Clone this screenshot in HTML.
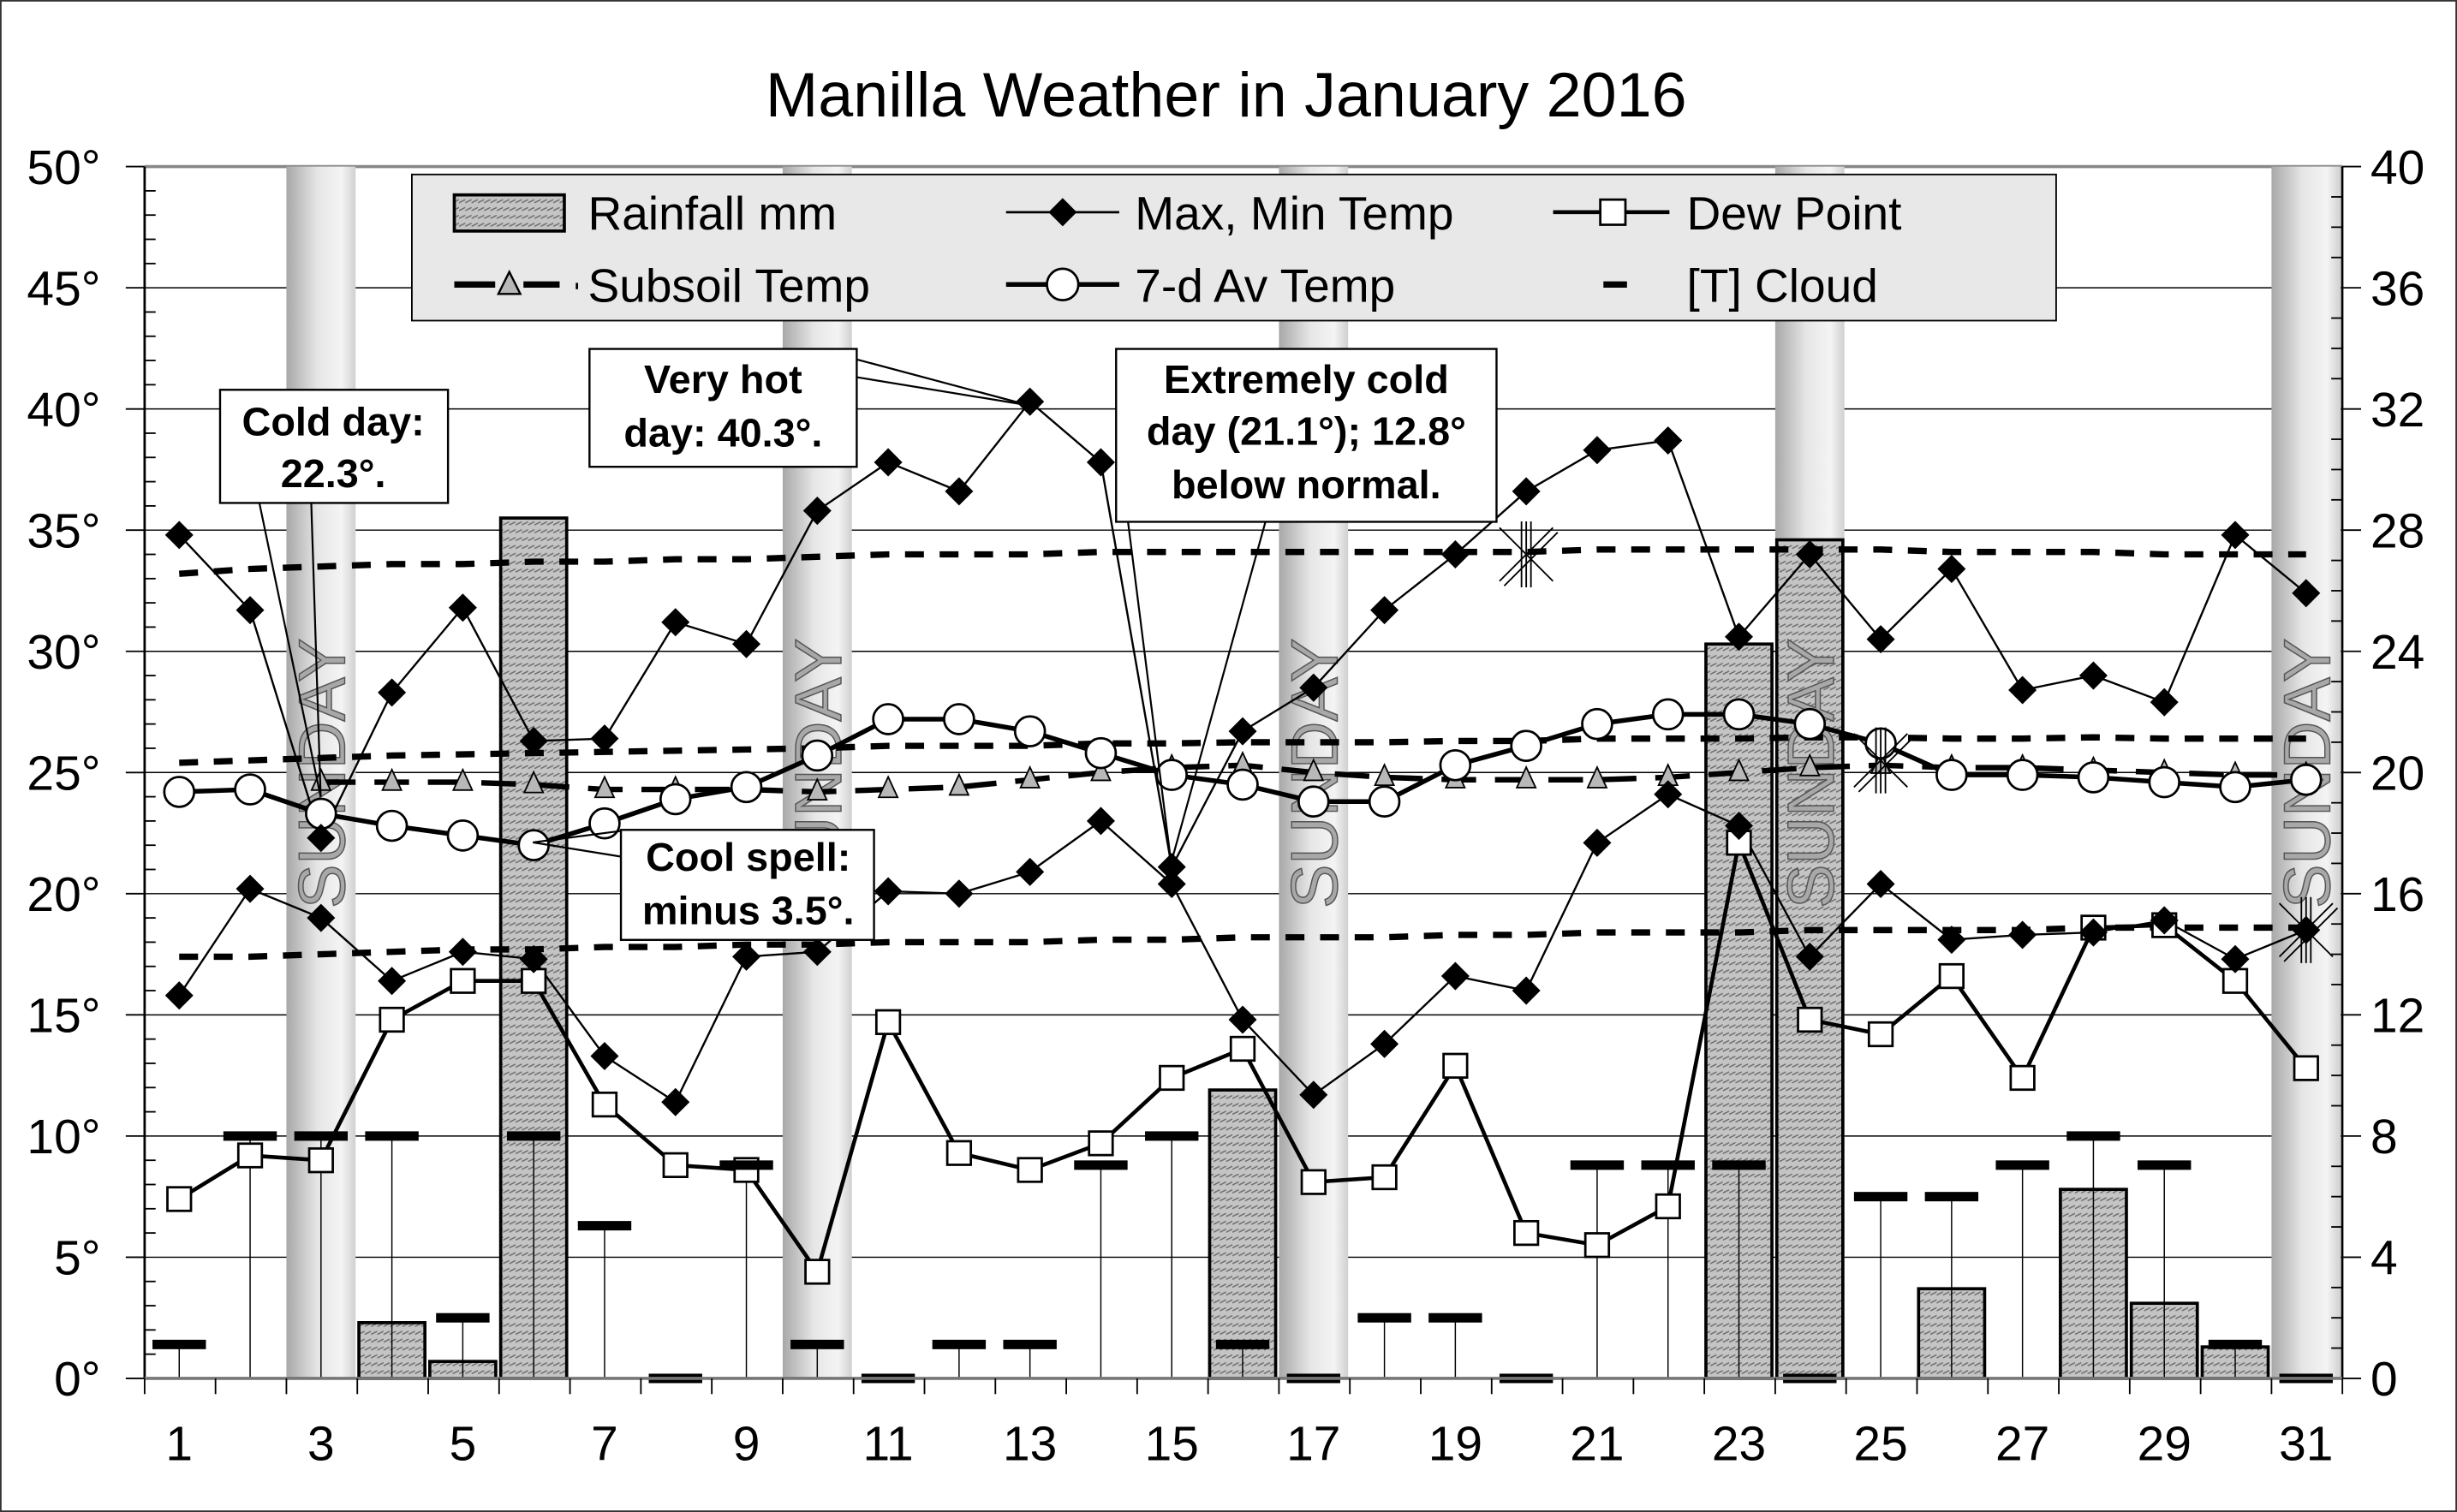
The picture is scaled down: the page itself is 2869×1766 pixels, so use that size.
<!DOCTYPE html>
<html><head><meta charset="utf-8"><style>
html,body{margin:0;padding:0;background:#fff;}
svg{display:block;}
text{font-family:"Liberation Sans",Arial,sans-serif;}
</style></head><body>
<svg id="s" width="2869" height="1766" viewBox="0 0 1563 962" preserveAspectRatio="none" xmlns="http://www.w3.org/2000/svg">
<defs>
<linearGradient id="sun" x1="0" x2="1" y1="0" y2="0">
<stop offset="0" stop-color="#a8a8a8"/><stop offset="0.45" stop-color="#e6e6e6"/><stop offset="0.8" stop-color="#f4f4f4"/><stop offset="1" stop-color="#d0d0d0"/>
</linearGradient>
<pattern id="hatch" width="4" height="5" patternUnits="userSpaceOnUse">
<rect width="4" height="5" fill="#c4c4c4"/><line x1="0" y1="4" x2="4" y2="2" stroke="#6a6a6a" stroke-width="0.8"/>
</pattern>
</defs>
<rect x="0.5" y="0.5" width="1562" height="961" fill="#fff" stroke="#333" stroke-width="1"/>
<text x="487" y="74" font-size="40" textLength="586" lengthAdjust="spacingAndGlyphs">Manilla Weather in January 2016</text>
<g id="grid"></g>
<g id="sundays"></g>
<g id="bars"></g>
<g id="drop"></g>
<g id="series"></g>
<g id="axes"></g>
<!-- legend -->
<rect x="262" y="111" width="1046" height="93" fill="#e8e8e8" stroke="#000" stroke-width="1"/>
<rect x="289" y="124" width="70" height="23" fill="url(#hatch)" stroke="#000" stroke-width="2"/>
<text x="374" y="146" font-size="30">Rainfall mm</text>
<line x1="640" y1="135" x2="712" y2="135" stroke="#000" stroke-width="1.5"/>
<path d="M676 126 L685 135 L676 144 L667 135Z" fill="#000"/>
<text x="722" y="146" font-size="30">Max, Min Temp</text>
<line x1="988" y1="135" x2="1062" y2="135" stroke="#000" stroke-width="2.5"/>
<rect x="1018" y="127" width="16" height="16" fill="#fff" stroke="#000" stroke-width="1.5"/>
<text x="1073" y="146" font-size="30">Dew Point</text>
<line x1="289" y1="181" x2="315" y2="181" stroke="#000" stroke-width="4"/>
<line x1="333" y1="181" x2="356" y2="181" stroke="#000" stroke-width="4"/>
<line x1="367" y1="180" x2="367" y2="184" stroke="#000" stroke-width="1.5"/>
<path d="M324 173 L331 187 L317 187Z" fill="#b8b8b8" stroke="#000" stroke-width="1.3"/>
<text x="374" y="192" font-size="30">Subsoil Temp</text>
<line x1="640" y1="181" x2="712" y2="181" stroke="#000" stroke-width="3"/>
<circle cx="676" cy="181" r="10" fill="#fff" stroke="#000" stroke-width="1.5"/>
<text x="722" y="192" font-size="30">7-d Av Temp</text>
<line x1="1020" y1="181" x2="1035" y2="181" stroke="#000" stroke-width="4"/>
<text x="1073" y="192" font-size="30">[T] Cloud</text>
<!-- annotations -->
<g stroke="#000" stroke-width="1.2" fill="none">
<line x1="165" y1="320" x2="204" y2="507"/><line x1="198" y1="320" x2="204" y2="507"/>
<line x1="520" y1="222" x2="655" y2="258"/><line x1="545" y1="240" x2="655" y2="258"/>
<line x1="710" y1="272" x2="745" y2="549"/><line x1="805" y1="332" x2="745" y2="549"/>
<line x1="395" y1="545" x2="339" y2="536"/><line x1="400" y1="528" x2="339" y2="536"/>
</g>
<g fill="#fff" stroke="#000" stroke-width="1.3">
<rect x="140" y="248" width="145" height="72"/>
<rect x="375" y="222" width="170" height="75"/>
<rect x="710" y="222" width="242" height="110"/>
<rect x="395" y="528" width="161" height="70"/>
</g>
<g font-size="25.5" font-weight="bold" text-anchor="middle">
<text x="212" y="277">Cold day:</text><text x="212" y="310">22.3°.</text>
<text x="460" y="250">Very hot</text><text x="460" y="284">day: 40.3°.</text>
<text x="831" y="250">Extremely cold</text><text x="831" y="283">day (21.1°);  12.8°</text><text x="831" y="317">below normal.</text>
<text x="476" y="554">Cool spell:</text><text x="476" y="588">minus 3.5°.</text>
</g>
</svg>
<script>
const NS="http://www.w3.org/2000/svg";
function X(d){return 114+(d-1)*45.1;}
function Y(v){return 877-v*15.42;}
function el(p,t,a){const e=document.createElementNS(NS,t);for(const k in a)e.setAttribute(k,a[k]);document.getElementById(p).appendChild(e);return e;}
for(let v=5;v<=50;v+=5){el("grid","line",{x1:92,x2:1490,y1:Y(v),y2:Y(v),stroke:v==50?"#888":"#000","stroke-width":v==50?2:0.8});}
[3,10,17,24,31].forEach(d=>{el("sundays","rect",{x:X(d)-22,y:Y(50),width:44,height:Y(0)-Y(50),fill:"url(#sun)"});});
const rain={4:2.3,5:0.7,6:35.5,16:11.9,23:30.3,24:34.6,26:3.7,28:7.8,29:3.1,30:1.3};
for(const d in rain){el("bars","rect",{x:X(+d)-21,y:Y(rain[d]),width:42,height:Y(0)-Y(rain[d]),fill:"url(#hatch)",stroke:"#000","stroke-width":2});}
[3,10,17,24,31].forEach(d=>{const t=el("bars","text",{x:0,y:0,"font-size":42,fill:"#a8a8a8",stroke:"#555","stroke-width":0.8,"text-anchor":"middle",transform:`translate(${X(d)+15},492) rotate(-90)`});t.textContent="SUNDAY";});
const cloud=[1.4,10,10,10,2.5,10,6.3,0,8.8,1.4,0,1.4,1.4,8.8,10,1.4,0,2.5,2.5,0,8.8,8.8,8.8,0,7.5,7.5,8.8,10,8.8,1.4,0];
cloud.forEach((c,i)=>{const d=i+1;if(c>0)el("drop","line",{x1:X(d),x2:X(d),y1:Y(0),y2:Y(c),stroke:"#000","stroke-width":0.8});});
function dashline(vals){let p=vals.map((v,i)=>`${X(i+1)},${Y(v)}`).join(" ");el("series","polyline",{points:p,fill:"none",stroke:"#000","stroke-width":4,"stroke-dasharray":"12 10"});}
const nmax=[33.2,33.4,33.5,33.6,33.6,33.7,33.7,33.8,33.8,33.9,34,34,34,34.1,34.1,34.1,34.1,34.1,34.1,34.1,34.2,34.2,34.2,34.2,34.2,34.1,34.1,34.1,34,34,34];
const nmin=[17.4,17.4,17.5,17.6,17.7,17.7,17.8,17.8,17.9,17.9,18,18,18,18.1,18.1,18.2,18.2,18.2,18.3,18.3,18.4,18.4,18.4,18.5,18.5,18.5,18.5,18.6,18.6,18.6,18.6];
const nmean=nmax.map((v,i)=>(v+nmin[i])/2+0.1);
dashline(nmax);dashline(nmin);dashline(nmean);
const sub=[null,null,24.6,24.6,24.6,24.5,24.3,24.3,24.3,24.2,24.3,24.4,24.7,25,25.2,25.3,25.0,24.8,24.7,24.7,24.7,24.8,25.0,25.2,25.3,25.2,25.2,25.1,25.0,24.9,24.9];
{let p=[];sub.forEach((v,i)=>{if(v!=null)p.push(`${X(i+1)},${Y(v)}`)});el("series","polyline",{points:p.join(" "),fill:"none",stroke:"#000","stroke-width":3.5,"stroke-dasharray":"22 12"});
sub.forEach((v,i)=>{if(v==null)return;const x=X(i+1),y=Y(v);el("series","path",{d:`M${x} ${y-8}L${x+6} ${y+5}L${x-6} ${y+5}Z`,fill:"#b8b8b8",stroke:"#000","stroke-width":1});});}
const av=[24.2,24.3,23.3,22.8,22.4,22.0,22.9,23.9,24.4,25.7,27.2,27.2,26.7,25.8,24.9,24.5,23.8,23.8,25.3,26.1,27.0,27.4,27.4,27.0,26.2,24.9,24.9,24.8,24.6,24.4,24.7];
el("series","polyline",{points:av.map((v,i)=>`${X(i+1)},${Y(v)}`).join(" "),fill:"none",stroke:"#000","stroke-width":3});
const dew=[7.4,9.2,9.0,14.8,16.4,16.4,11.3,8.8,8.6,4.4,14.7,9.3,8.6,9.7,12.4,13.6,8.1,8.3,12.9,6.0,5.5,7.1,22.1,14.8,14.2,16.6,12.4,18.6,18.7,16.4,12.8];
el("series","polyline",{points:dew.map((v,i)=>`${X(i+1)},${Y(v)}`).join(" "),fill:"none",stroke:"#000","stroke-width":2.5});
const mx=[34.8,31.7,22.3,28.3,31.8,26.3,26.4,31.2,30.3,35.8,37.8,36.6,40.3,37.8,21.1,26.7,28.5,31.7,34.0,36.6,38.3,38.7,30.6,34.0,30.5,33.4,28.4,29.0,27.9,34.8,32.4];
const mn=[15.8,20.2,19.0,16.4,17.6,17.3,13.3,11.4,17.4,17.6,20.1,20.0,20.9,23.0,20.4,14.8,11.7,13.8,16.6,16.0,22.1,24.1,22.8,17.4,20.4,18.1,18.3,18.4,18.9,17.3,18.5];
[mx,mn].forEach(a=>el("series","polyline",{points:a.map((v,i)=>`${X(i+1)},${Y(v)}`).join(" "),fill:"none",stroke:"#000","stroke-width":1.3}));
av.forEach((v,i)=>el("series","circle",{cx:X(i+1),cy:Y(v),r:9.5,fill:"#fff",stroke:"#000","stroke-width":1.5}));
dew.forEach((v,i)=>el("series","rect",{x:X(i+1)-7.5,y:Y(v)-7.5,width:15,height:15,fill:"#fff",stroke:"#000","stroke-width":1.5}));
[mx,mn].forEach(a=>a.forEach((v,i)=>{const x=X(i+1),y=Y(v);el("series","path",{d:`M${x} ${y-9}L${x+9} ${y}L${x} ${y+9}L${x-9} ${y}Z`,fill:"#000"});}));
cloud.forEach((c,i)=>el("series","rect",{x:X(i+1)-17,y:Y(c)-3,width:34,height:6,fill:"#000"}));
[[20,34.0],[25,25.5],[31,18.5]].forEach(([d,v])=>{const x=X(d),y=Y(v);
[[0,-21,0,21],[-3,-21,-3,21],[3,-21,3,21],[-17,-17,17,17],[-17,17,17,-17],[-14,20,20,-14]].forEach(l=>el("series","line",{x1:x+l[0],y1:y+l[1],x2:x+l[2],y2:y+l[3],stroke:"#000","stroke-width":1}));});
el("axes","line",{x1:92,x2:92,y1:Y(50),y2:Y(0),stroke:"#000","stroke-width":1.5});
el("axes","line",{x1:1490,x2:1490,y1:Y(50),y2:Y(0),stroke:"#000","stroke-width":1.5});
el("axes","line",{x1:92,x2:1490,y1:Y(0),y2:Y(0),stroke:"#777","stroke-width":2});
for(let v=0;v<=50;v++){const y=Y(v);if(v%5==0){el("axes","line",{x1:80,x2:92,y1:y,y2:y,stroke:"#000","stroke-width":1});}else{el("axes","line",{x1:92,x2:99,y1:y,y2:y,stroke:"#000","stroke-width":1});}}
for(let r=0;r<=40;r++){const y=Y(r*50/40);if(r%4==0)el("axes","line",{x1:1490,x2:1502,y1:y,y2:y,stroke:"#000","stroke-width":1});else el("axes","line",{x1:1483,x2:1490,y1:y,y2:y,stroke:"#000","stroke-width":1});}
for(let k=0;k<=31;k++){const x=92+k*45.1;el("axes","line",{x1:x,x2:x,y1:Y(0),y2:Y(0)+10,stroke:"#000","stroke-width":1});}
for(let v=0;v<=50;v+=5){const t=el("axes","text",{x:64,y:Y(v)+11,"font-size":31,"text-anchor":"end"});t.textContent=v+"°";}
for(let r=0;r<=40;r+=4){const t=el("axes","text",{x:1508,y:Y(r*50/40)+11,"font-size":31});t.textContent=r;}
for(let d=1;d<=31;d+=2){const t=el("axes","text",{x:X(d),y:929,"font-size":31,"text-anchor":"middle"});t.textContent=d;}
</script>
</body></html>
